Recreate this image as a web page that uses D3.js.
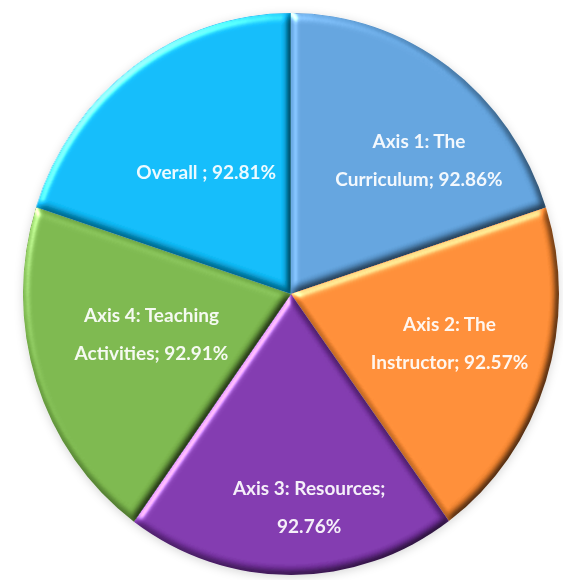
<!DOCTYPE html>
<html>
<head>
<meta charset="utf-8">
<script src="https://cdn.jsdelivr.net/npm/d3@7"></script>
<style>
  html, body { margin: 0; padding: 0; background: #ffffff; }
  svg { display: block; }
  .slice-label { font-family: "Lato", "Open Sans", sans-serif; font-weight: 700; font-size: 19px; fill: #ffffff; fill-opacity: 0.92; }
</style>
</head>
<body>
<svg id="chart" width="563" height="580"></svg>
<script>
// Survey results per axis (percent)
const categories = ["Axis 1: The Curriculum", "Axis 2: The Instructor", "Axis 3: Resources", "Axis 4: Teaching Activities", "Overall "];
const values = [92.86, 92.57, 92.76, 92.91, 92.81];
const colors = ["#5B9BD5", "#F5852F", "#7932A6", "#74AF46", "#08B3F0"];

// Layout
const width = 563, height = 580;
const cx = 291, cy = 294;     // pie centre
const rx = 268, ry = 281;     // slightly elliptical pie
const wrapWidth = 175;        // max label line width
const lineHeight = 38;
// label anchor: angle nudge (deg) from slice middle and fraction of radius
const labelPlacement = [
  { da: 9, f: 0.675 },
  { da: -1.4, f: 0.617 },
  { da: -5, f: 0.761 },
  { da: 2.6, f: 0.54 },
  { da: 0, f: 0.538 }
];

const svg = d3.select("#chart");
const defs = svg.append("defs");

// bevel: blurred alpha used as a bump map, lit from the upper left
const bevel = defs.append("filter")
  .attr("id", "bevel")
  .attr("x", "-5%").attr("y", "-5%").attr("width", "110%").attr("height", "110%")
  .attr("color-interpolation-filters", "sRGB");
bevel.append("feGaussianBlur").attr("in", "SourceAlpha").attr("stdDeviation", 4).attr("result", "blur");
bevel.append("feDiffuseLighting")
  .attr("in", "blur").attr("surfaceScale", 4.5).attr("diffuseConstant", 1 / Math.sin(60 * Math.PI / 180))
  .attr("lighting-color", "#ffffff").attr("result", "diff")
  .append("feDistantLight").attr("azimuth", 225).attr("elevation", 60);
bevel.append("feSpecularLighting")
  .attr("in", "blur").attr("surfaceScale", 3.5).attr("specularConstant", 0.6)
  .attr("specularExponent", 22).attr("lighting-color", "#ffffff").attr("result", "spec")
  .append("feDistantLight").attr("azimuth", 225).attr("elevation", 35);
bevel.append("feComposite").attr("in", "spec").attr("in2", "SourceAlpha").attr("operator", "in").attr("result", "specIn");
bevel.append("feComposite").attr("in", "SourceGraphic").attr("in2", "diff")
  .attr("operator", "arithmetic").attr("k1", 1).attr("k2", 0).attr("k3", 0).attr("k4", 0).attr("result", "shaded");
bevel.append("feComposite").attr("in", "shaded").attr("in2", "specIn")
  .attr("operator", "arithmetic").attr("k1", 0).attr("k2", 1).attr("k3", 1).attr("k4", 0);

// soft shadow under the whole pie
const shadow = defs.append("filter")
  .attr("id", "pieShadow")
  .attr("x", "-10%").attr("y", "-10%").attr("width", "120%").attr("height", "120%");
shadow.append("feDropShadow")
  .attr("dx", 0).attr("dy", 2).attr("stdDeviation", 5)
  .attr("flood-color", "#000000").attr("flood-opacity", 0.16);

const pie = d3.pie().sort(null).value(d => d);
const arcs = pie(values);
const arc = d3.arc().innerRadius(0).outerRadius(ry);

const outer = svg.append("g").attr("filter", "url(#pieShadow)");
const pieG = outer.append("g")
  .attr("transform", `translate(${cx},${cy}) scale(${rx / ry},1)`);

pieG.selectAll("path.slice")
  .data(arcs)
  .join("path")
  .attr("class", "slice")
  .attr("d", arc)
  .attr("fill", (d, i) => colors[i])
  .attr("filter", "url(#bevel)");

// word-wrap helper using real text measurement
const measure = svg.append("text").attr("class", "slice-label").attr("visibility", "hidden");
function wrap(text) {
  const words = text.split(" ");
  const lines = [];
  let line = "";
  words.forEach(w => {
    const test = line ? line + " " + w : w;
    measure.text(test);
    if (line && measure.node().getComputedTextLength() > wrapWidth) {
      lines.push(line);
      line = w;
    } else {
      line = test;
    }
  });
  if (line) lines.push(line);
  return lines;
}

const labels = svg.append("g");
arcs.forEach((d, i) => {
  const p = labelPlacement[i];
  const mid = (d.startAngle + d.endAngle) / 2 + p.da * Math.PI / 180;
  const x = cx + Math.sin(mid) * p.f * rx;
  const y = cy - Math.cos(mid) * p.f * ry;
  const lines = wrap(`${categories[i]}; ${d3.format(".2f")(values[i])}%`);
  const t = labels.append("text")
    .attr("class", "slice-label")
    .attr("text-anchor", "middle");
  lines.forEach((ln, k) => {
    t.append("tspan")
      .attr("x", x)
      .attr("y", y + (k - (lines.length - 1) / 2) * lineHeight + 7)
      .text(ln);
  });
});
measure.remove();
</script>
</body>
</html>
